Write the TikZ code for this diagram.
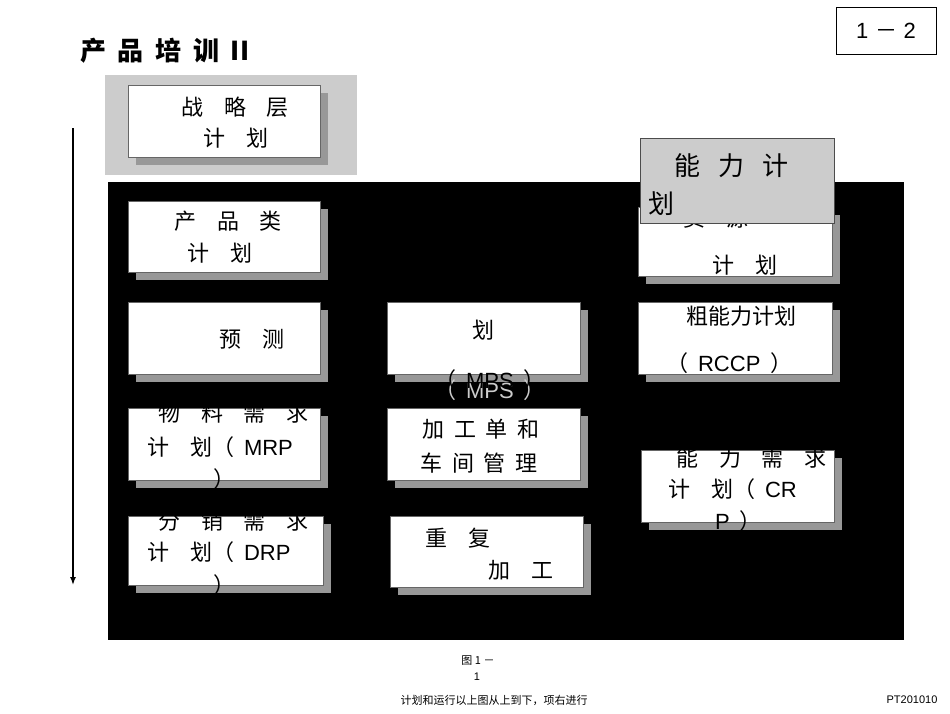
\documentclass[tikz,border=0pt]{standalone}
\usepackage{fontspec}
\usetikzlibrary{arrows.meta}
\setmainfont{Liberation Sans}
\newfontfamily\cjk{Noto Sans CJK SC}
\newcommand\gp{\hspace{0.95em}}
\newcommand\gs{\hspace{0.45em}}
\begin{document}
\begin{tikzpicture}[x=1pt,y=-1pt,
  t/.style={font=\fontsize{22}{24}\selectfont, inner sep=0, anchor=base west},
  sm/.style={font=\fontsize{11}{12}\selectfont, inner sep=0}]
\useasboundingbox (0,0) rectangle (950,713);
\fill[white] (0,0) rectangle (950,713);
\def\bx#1#2#3#4#5{\fill[gray!85!black!70] (#2+8,#3+8) rectangle (#4+8,#5+8);
  \draw[fill=white,draw=black!60] (#2,#3) rectangle (#4,#5); \coordinate (#1) at (#2,#3);}
% title
\node[font=\cjk\bfseries\fontsize{26}{28}\selectfont, anchor=west, inner sep=0] (title) at (80,51) {产\gs 品\gs 培\gs 训\gs\textbf{II}};
\node[draw, thick, minimum width=100, minimum height=47, font=\fontsize{22}{24}\selectfont, inner sep=0] (pg) at (886,31) {1\hspace{0.3em}{\cjk －}\hspace{0.3em}2};
% strategic
\fill[black!20] (105,75) rectangle (357,175);
\bx{s}{128}{85}{320}{157}
\node[t,font=\cjk\fontsize{22}{24}\selectfont] at (181,115) {战\gp 略\gp 层};
\node[t,font=\cjk\fontsize{22}{24}\selectfont] at (203,146) {计\gp 划};
% arrow
\coordinate (a1) at (73,128); \coordinate (a2) at (73,585);
\draw[line width=1.5pt,-{Latex[length=8pt,width=6pt]}] (a1) -- (a2);
% black panel
\fill[black] (108,182) rectangle (904,640);
\begin{scope}[every node/.style={t,font=\cjk\fontsize{22}{24}\selectfont}]
\bx{b1}{128}{201}{320}{272}
\node at (174,229) {产\gp 品\gp 类};
\node at (187,261) {计\gp 划};
\bx{b2}{128}{302}{320}{374}
\node at (219,347) {预\gp 测};
\bx{b3}{128}{408}{320}{480}
\node at (158,421) {物\gp 料\gp 需\gp 求};
\node at (147,455) {计\gp 划（\gs\fontspec{Liberation Sans}MRP};
\node at (213,487) {）};
\bx{b4}{128}{516}{323}{585}
\node at (158,529) {分\gp 销\gp 需\gp 求};
\node at (147,560) {计\gp 划（\gs\fontspec{Liberation Sans}DRP};
\node at (213,593) {）};
\bx{b5}{387}{302}{580}{374}
\node at (420,299) {主\gp 生\gp 产\gp 计};
\node at (472,338) {划};
\node[text=white!80!black] at (434,398) {（\gs\fontspec{Liberation Sans}MPS\gs\cjk）};
\node at (434,388) {（\gs\fontspec{Liberation Sans}MPS\gs\cjk）};
\bx{b6}{387}{408}{580}{480}
\node at (422,437) {加\hspace{0.45em}工\hspace{0.45em}单\hspace{0.45em}和};
\node at (420,471) {车\hspace{0.45em}间\hspace{0.45em}管\hspace{0.45em}理};
\bx{b7}{390}{516}{583}{587}
\node at (425,546) {重\gp 复};
\node at (488,578) {加\gp 工};
\bx{b8}{638}{207}{832}{276}
\node at (683,226) {资\gp 源};
\node at (712,273) {计\gp 划};
\bx{b9}{638}{302}{832}{374}
\node at (686,324) {粗能力计划};
\node at (666,371) {（\gs\fontspec{Liberation Sans}RCCP\gs\cjk）};
\bx{b10}{641}{450}{834}{522}
\node at (676,466) {能\gp 力\gp 需\gp 求};
\node at (668,497) {计\gp 划（\gs\fontspec{Liberation Sans}CR};
\node at (715,529) {\fontspec{Liberation Sans}P\gs\cjk）};
\end{scope}
% capacity box
\draw[fill=black!20,draw=black!70] (640,138) rectangle (834,223);
\node[t,font=\cjk\fontsize{26}{28}\selectfont] (cap) at (674,175) {能\hspace{0.7em}力\hspace{0.7em}计};
\node[t,font=\cjk\fontsize{26}{28}\selectfont] at (648,213) {划};
% footer
\node[sm,font=\cjk\fontsize{11}{12}\selectfont] (f1) at (478,661) {图 1 －};
\node[sm] (f2) at (477,677) {1};
\node[sm,font=\cjk\fontsize{11}{12}\selectfont] (f3) at (494,700) {计划和运行以上图从上到下，项右进行};
\node[sm] (f4) at (912,700) {PT201010};
\end{tikzpicture}
\end{document}
